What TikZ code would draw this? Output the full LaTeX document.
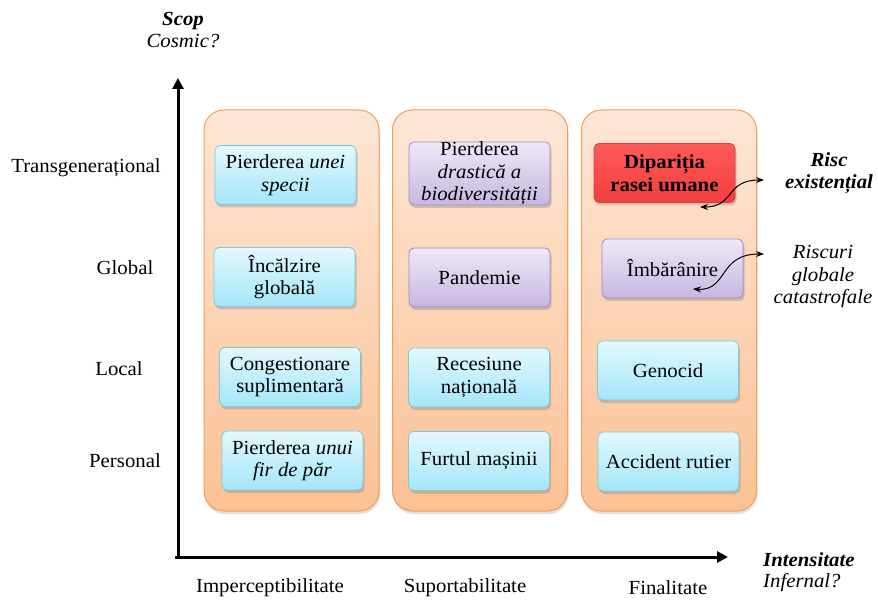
\documentclass[tikz,border=0pt]{standalone}
\usepackage{fontspec}
\setmainfont[FakeStretch=1.04]{Liberation Serif}
\usetikzlibrary{arrows.meta,shadows}
\definecolor{colTop}{HTML}{FDE6D5}
\definecolor{colBot}{HTML}{FBC194}
\definecolor{colBorder}{HTML}{F59D56}
\definecolor{cyTop}{HTML}{E3F8FE}
\definecolor{cyBot}{HTML}{A3E6F9}
\definecolor{cyBorder}{HTML}{7CC8DC}
\definecolor{puTop}{HTML}{EEE8F7}
\definecolor{puBot}{HTML}{C6B7E2}
\definecolor{puBorder}{HTML}{9C8AC2}
\definecolor{rdTop}{HTML}{FF5A5A}
\definecolor{rdBot}{HTML}{F23E3E}
\definecolor{rdBorder}{HTML}{D04040}
\tikzset{
  txt/.style={font=\fontsize{20}{22.5}\selectfont, align=center, inner sep=0pt},
  column/.style={draw=colBorder, line width=1pt, rounded corners=20pt,
    top color=colTop, bottom color=colBot, minimum width=175pt, minimum height=401pt,
    drop shadow={shadow xshift=1pt, shadow yshift=-3pt, opacity=0.25}},
  box/.style={txt, rounded corners=5pt, minimum width=141pt, minimum height=59pt, line width=0.8pt,
    drop shadow={shadow xshift=1.5pt, shadow yshift=-3pt, opacity=0.35}},
  cybox/.style={box, draw=cyBorder, top color=cyTop, bottom color=cyBot},
  pubox/.style={box, draw=puBorder, top color=puTop, bottom color=puBot},
  rdbox/.style={box, draw=rdBorder, top color=rdTop, bottom color=rdBot, font=\fontsize{20}{22.5}\selectfont\bfseries},
  axis/.style={line width=3pt, -{Triangle[length=11pt,width=11pt]}},
  link/.style={line width=1pt, {Stealth[length=8pt,width=6pt]}-{Stealth[length=8pt,width=6pt]}},
}
\begin{document}
\begin{tikzpicture}[x=1pt,y=-1pt]
\useasboundingbox (0,0) rectangle (878,601);
\fill[white] (0,0) rectangle (878,601);

% columns
\node[column] (c1) at (291.5,310.5) {};
\node[column] (c2) at (480,310.5) {};
\node[column] (c3) at (669,310.5) {};

% axes
\coordinate (o) at (178,557);
\coordinate (ytop) at (178,78);
\coordinate (xend) at (728,557);
\draw[axis] ([yshift=-1.5pt]o) -- (ytop);
\draw[axis] ([xshift=-3pt]o) -- (xend);

% boxes
\node[cybox] (b11) at (285.5,175) {Pierderea \textit{unei}\\\textit{specii}};
\node[cybox] (b12) at (284.5,277) {Încălzire\\globală};
\node[cybox] (b13) at (290,377) {Congestionare\\suplimentară};
\node[cybox] (b14) at (292.5,460.5) {Pierderea \textit{unui}\\\textit{fir de păr}};

\node[pubox] (b21) at (479.5,173.5) {Pierderea\\\textit{drastică a}\\\textit{biodiversității}};
\node[pubox] (b22) at (479.5,277.5) {Pandemie};
\node[cybox] (b23) at (479,377.5) {Recesiune\\națională};
\node[cybox] (b24) at (479,461) {Furtul mașinii};

\node[rdbox] (b31) at (664.5,173) {Dipariția\\rasei umane};
\node[pubox] (b32) at (672.5,268.5) {Îmbărânire};
\node[cybox] (b33) at (668,370.5) {Genocid};
\node[cybox] (b34) at (668.5,461.5) {Accident rutier};

% y labels
\node[txt] (ly1) at (86,168) {Transgenerațional};
\node[txt] (ly2) at (125,268) {Global};
\node[txt] (ly3) at (119,369) {Local};
\node[txt] (ly4) at (125,461) {Personal};

% x labels
\node[txt] (lx1) at (270,588) {Imperceptibilitate};
\node[txt] (lx2) at (465,588) {Suportabilitate};
\node[txt] (lx3) at (668,588) {Finalitate};

% axis titles
\node[txt] (scop) at (183,30) {\textbf{\textit{Scop}}\\\textit{Cosmic?}};
\node[txt, anchor=west] (int) at (763,560) {\textbf{\textit{Intensitate}}};
\node[txt, anchor=west] (inf) at (763,583) {\textit{Infernal?}};

% risk labels
\node[txt] (risc) at (829,173) {\textbf{\textit{Risc}}\\\textbf{\textit{existențial}}};
\node[txt] (riscg) at (823,277) {\textit{Riscuri}\\\textit{globale}\\\textit{catastrofale}};

% curved connectors
\coordinate (a1s) at (700,207);
\coordinate (a1e) at (764,180);
\coordinate (a2s) at (693,289);
\coordinate (a2e) at (764,254);
\draw[link] (a1s) .. controls (735,207) and (725,180) .. (a1e);
\draw[link] (a2s) .. controls (728,291) and (718,254) .. (a2e);
\end{tikzpicture}
\end{document}
